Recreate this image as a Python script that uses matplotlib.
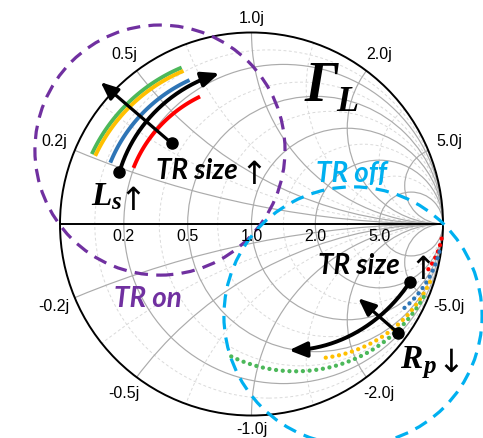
import numpy as np
import matplotlib.pyplot as plt
from matplotlib.patches import Circle

# Smith chart grid
r_major = [0.2, 0.5, 1.0, 2.0, 5.0]
x_major = [0.2, 0.5, 1.0, 2.0, 5.0]
r_minor = [0.1, 0.35, 0.7, 1.4, 3.0]
x_minor = [0.35, 0.7, 1.4, 3.0]
r_labels = ['0.2', '0.5', '1.0', '2.0', '5.0']
x_labels = ['0.2j', '0.5j', '1.0j', '2.0j', '5.0j']

# L_s sweep (TR on): |Gamma| and angle (deg) at start / end of each trace
ls_colors = ['#4CB85A', '#FFC000', '#2E75B6', '#FF0000']
ls_mag0 = [0.910, 0.890, 0.804, 0.683]
ls_mag1 = [0.895, 0.875, 0.818, 0.717]
ls_ang0 = [155.7, 155.8, 155.8, 153.7]
ls_ang1 = [114.7, 114.6, 114.0, 112.8]

# R_p sweep (TR off): constant resistance, reactance range
rp_colors = ['#FF0000', '#2E75B6', '#FFC000', '#4CB85A']
rp_r = [1.48, 0.73, 0.42, 0.30]
rp_x0 = [-26.0, -13.6, -6.3, -4.9]
rp_x1 = [-7.6, -3.67, -1.57, -0.80]

# trend arrows: (mag0, mag1, ang0, ang1)
curved_arrows = [(0.741, 0.805, 158.6, 102.0), (0.881, 0.688, -20.0, -73.5)]
straight_arrows = [((-0.4167, 0.4214), (-0.7875, 0.7405)),
                   ((0.765, -0.569), (0.5577, -0.388))]

# region circles (center, radius)
on_circle = ((-0.478, 0.386), 0.653)
off_circle = ((0.530, -0.480), 0.674)

PURPLE = '#7030A0'
CYAN = '#00B0F0'

W, H = 483, 438
S = 191.5
cx, cy = 251.5, 224.0

fig = plt.figure(figsize=(W / 100, H / 100), dpi=100)
ax = fig.add_axes([0, 0, 1, 1])
ax.set_xlim(-cx / S, (W - cx) / S)
ax.set_ylim((cy - H) / S, cy / S)
ax.axis('off')


def P(px, py):
    # pixel position -> Gamma plane
    return (px - cx) / S, (cy - py) / S


unit = Circle((0, 0), 1, fill=False, ec='k', lw=1.4, zorder=4)
ax.add_patch(unit)


def grid_circle(c, rad, **kw):
    p = Circle(c, rad, fill=False, **kw)
    ax.add_patch(p)
    p.set_clip_path(unit)


for r in r_minor:
    grid_circle((r / (1 + r), 0), 1 / (1 + r), ec='#DADADA', lw=0.7, ls=(0, (3, 2.5)), zorder=1)
for x in x_minor:
    for s in (1, -1):
        grid_circle((1, s / x), 1 / x, ec='#DADADA', lw=0.7, ls=(0, (3, 2.5)), zorder=1)
for r in r_major:
    grid_circle((r / (1 + r), 0), 1 / (1 + r), ec='#ABABAB', lw=0.85, zorder=2)
for x in x_major:
    for s in (1, -1):
        grid_circle((1, s / x), 1 / x, ec='#ABABAB', lw=0.85, zorder=2)
ax.plot([-1, 1], [0, 0], color='k', lw=1.4, zorder=4)

tick_font = dict(family=['Liberation Sans', 'DejaVu Sans'], fontsize=11.5)
for r, lab in zip(r_major, r_labels):
    g = (r - 1) / (r + 1)
    ax.text(g, -12 / S, lab, ha='center', va='center', zorder=6, **tick_font)
for x, lab in zip(x_major, x_labels):
    for s in (1, -1):
        g = (1j * s * x - 1) / (1j * s * x + 1)
        d = (8 + 13 * abs(g.real) + 6 * abs(g.imag)) / S
        ax.text(g.real * (1 + d), g.imag * (1 + d), ('-' if s < 0 else '') + lab,
                ha='center', va='center', zorder=6, **tick_font)

# region circles
for (c, rad), col in ((on_circle, PURPLE), (off_circle, CYAN)):
    ax.add_patch(Circle(c, rad, fill=False, ec=col, lw=2.3, ls=(0, (4.2, 2.6)), zorder=5))

# L_s traces
for col, m0, m1, a0, a1 in zip(ls_colors, ls_mag0, ls_mag1, ls_ang0, ls_ang1):
    t = np.linspace(0, 1, 120)
    mag = m0 + (m1 - m0) * t
    ang = np.radians(a0 + (a1 - a0) * t)
    ax.plot(mag * np.cos(ang), mag * np.sin(ang), color=col, lw=2.8, zorder=6)

# R_p traces (dotted)
for col, r, x0, x1 in zip(rp_colors, rp_r, rp_x0, rp_x1):
    xs = -np.geomspace(-x0, -x1, 400)
    z = r + 1j * xs
    g = (z - 1) / (z + 1)
    ax.plot(g.real, g.imag, color=col, lw=3.1, ls=(0, (0.01, 1.55)),
            dash_capstyle='round', zorder=6)

head = dict(arrowstyle='-|>,head_length=0.7,head_width=0.3', color='k', lw=2.3,
            shrinkA=0, shrinkB=0, mutation_scale=15)

for m0, m1, a0, a1 in curved_arrows:
    t = np.linspace(0, 1, 200)
    mag = m0 + (m1 - m0) * t
    ang = np.radians(a0 + (a1 - a0) * t)
    xs, ys = mag * np.cos(ang), mag * np.sin(ang)
    ax.plot(xs[:-18], ys[:-18], color='k', lw=2.8, zorder=7)
    ax.annotate('', xy=(xs[-1], ys[-1]), xytext=(xs[-18], ys[-18]),
                arrowprops=dict(head, lw=2.8), zorder=7)
    ax.plot(xs[0], ys[0], 'o', color='k', ms=8, zorder=8)

for p0, p1 in straight_arrows:
    ax.annotate('', xy=p1, xytext=p0, arrowprops=head, zorder=7)
    ax.plot(*p0, 'o', color='k', ms=8, zorder=8)

# labels
sans_bi = dict(family=['Lato', 'DejaVu Sans'], fontweight='bold', style='italic',
               fontsize=20, zorder=9)
serif_bi = dict(family=['Liberation Serif', 'DejaVu Serif'], fontweight='bold',
                style='italic', zorder=9)
arrow_font = dict(family='DejaVu Sans', fontsize=23, zorder=9, ha='center', va='baseline')

ax.text(*P(156, 179), 'TR size', ha='left', va='baseline', color='k', **sans_bi)
ax.text(*P(254, 184), '\u2191', **arrow_font)
ax.text(*P(318, 274), 'TR size', ha='left', va='baseline', color='k', **sans_bi)
ax.text(*P(423, 279), '\u2191', **arrow_font)
ax.text(*P(316, 182), 'TR off', ha='left', va='baseline', color=CYAN, **sans_bi)
ax.text(*P(114, 307), 'TR on', ha='left', va='baseline', color=PURPLE, **sans_bi)

ax.text(*P(305, 101), '\u0393', ha='left', va='baseline', fontsize=40, **serif_bi)
ax.text(*P(336, 111), 'L', ha='left', va='baseline', fontsize=26, **serif_bi)
ax.text(*P(91, 205), 'L', ha='left', va='baseline', fontsize=24, **serif_bi)
ax.text(*P(111, 209), 's', ha='left', va='baseline', fontsize=18, **serif_bi)
ax.text(*P(133, 210), '\u2191', **arrow_font)
ax.text(*P(400, 368), 'R', ha='left', va='baseline', fontsize=24, **serif_bi)
ax.text(*P(424, 373), 'p', ha='left', va='baseline', fontsize=18, **serif_bi)
ax.text(*P(451, 372), '\u2193', **arrow_font)

fig.savefig('out.png', dpi=100)
